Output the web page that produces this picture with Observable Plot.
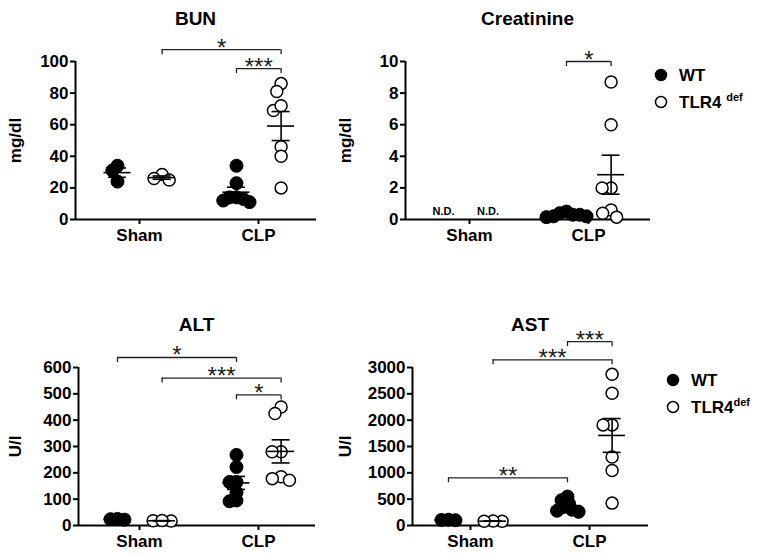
<!DOCTYPE html>
<html><head><meta charset="utf-8">
<script src="https://cdn.jsdelivr.net/npm/d3@7"></script>
<script src="https://cdn.jsdelivr.net/npm/@observablehq/plot@0.6"></script>
<style>
body{margin:0;background:#fff;font-family:"Liberation Sans",Arial,sans-serif;}
#root{position:relative;width:764px;height:556px;overflow:hidden;background:#fff;}
.panel{position:absolute;}
.title{position:absolute;font-weight:bold;font-size:19px;line-height:19px;white-space:nowrap;transform:translateX(-50%);}
.lg{position:absolute;font-weight:bold;font-size:17px;line-height:17px;white-space:nowrap;}
.lg sup{font-size:11px;vertical-align:0;position:relative;top:-7px;}
.sym{position:absolute;}
g[aria-label="stars"] text{letter-spacing:1.5px;}
</style></head><body><div id="root"></div>
<script>
// ---- categories ----
const groups = ["Sham", "CLP"];
const genotypes = ["WT", "TLR4"];

// ---- BUN (mg/dl) ----
const bunShamWT   = [34, 31, 24];
const bunShamTLR4 = [28.5, 25, 26];
const bunClpWT    = [34, 23, 14, 13, 12, 11, 14];
const bunClpTLR4  = [86, 81, 69, 72, 46, 40, 20];
const bunTicks    = [0, 20, 40, 60, 80, 100];
const bunBrackets = [
  {from: "Sham TLR4", to: "CLP TLR4", level: 107.5, label: "*"},
  {from: "CLP WT", to: "CLP TLR4", level: 95.5, label: "***"}
];

// ---- Creatinine (mg/dl) ----
const creShamWT   = [];   // N.D.
const creShamTLR4 = [];   // N.D.
const creClpWT    = [0.5, 0.4, 0.3, 0.2, 0.2, 0.15, 0.3];
const creClpTLR4  = [8.7, 6.0, 2.0, 2.0, 0.6, 0.4, 0.15];
const creTicks    = [0, 2, 4, 6, 8, 10];
const creBrackets = [
  {from: "CLP WT", to: "CLP TLR4", level: 10, label: "*"}
];
const creNotDetected = [{col: "Sham WT", label: "N.D."}, {col: "Sham TLR4", label: "N.D."}];

// ---- ALT (U/l) ----
const altShamWT   = [25, 22, 24];
const altShamTLR4 = [18, 17, 19];
const altClpWT    = [268, 222, 165, 165, 125, 92, 95];
const altClpTLR4  = [450, 425, 280, 280, 185, 172, 178];
const altTicks    = [0, 100, 200, 300, 400, 500, 600];
const altBrackets = [
  {from: "Sham WT", to: "CLP WT", level: 638, label: "*"},
  {from: "Sham TLR4", to: "CLP TLR4", level: 560, label: "***"},
  {from: "CLP WT", to: "CLP TLR4", level: 496, label: "*"}
];

// ---- AST (U/l) ----
const astShamWT   = [105, 100, 110];
const astShamTLR4 = [80, 85, 82];
const astClpWT    = [550, 480, 420, 350, 300, 280, 260];
const astClpTLR4  = [2870, 2510, 1910, 1910, 1300, 1045, 425];
const astTicks    = [0, 500, 1000, 1500, 2000, 2500, 3000];
const astBrackets = [
  {from: "CLP WT", to: "CLP TLR4", level: 3490, label: "***"},
  {from: "Sham TLR4", to: "CLP TLR4", level: 3146, label: "***"},
  {from: "Sham WT", to: "CLP WT", level: 905, label: "**"}
];

// ---- layout ----
const UNIT_PX = 119;            // px between Sham and CLP
const GENO_OFF = {WT: -0.185, TLR4: 0.19};
function colX(key) {
  const [g, t] = key.split(" ");
  return groups.indexOf(g) + GENO_OFF[t];
}

const panels = [
  {title: "BUN", unit: "mg/dl", yMax: 100, ticks: bunTicks,
   sets: [bunShamWT, bunShamTLR4, bunClpWT, bunClpTLR4], brackets: bunBrackets, nd: [],
   left: 0, top: 0, width: 330, height: 262, mL: 75, mR: 14, mT: 61, mB: 43, shamPx: 139},
  {title: "Creatinine", unit: "mg/dl", yMax: 10, ticks: creTicks,
   sets: [creShamWT, creShamTLR4, creClpWT, creClpTLR4], brackets: creBrackets, nd: creNotDetected,
   left: 330, top: 0, width: 434, height: 262, mL: 75, mR: 114, mT: 61, mB: 43, shamPx: 469},
  {title: "ALT", unit: "U/l", yMax: 600, ticks: altTicks,
   sets: [altShamWT, altShamTLR4, altClpWT, altClpTLR4], brackets: altBrackets, nd: [],
   left: 0, top: 262, width: 330, height: 294, mL: 78, mR: 15, mT: 105, mB: 31, shamPx: 139},
  {title: "AST", unit: "U/l", yMax: 3000, ticks: astTicks,
   sets: [astShamWT, astShamTLR4, astClpWT, astClpTLR4], brackets: astBrackets, nd: [],
   left: 330, top: 262, width: 434, height: 294, mL: 82, mR: 116, mT: 105, mB: 31, shamPx: 470}
];

// simple beeswarm spread (pixel space) so overlapping points sit side by side
function swarm(values, pxPerUnit, minDist) {
  const order = d3.range(values.length).sort((a, b) => values[b] - values[a]);
  const placed = [], off = new Array(values.length).fill(0);
  for (const i of order) {
    const y = values[i] * pxPerUnit;
    const forb = [];
    for (const p of placed) {
      const dy = Math.abs(p.y - y);
      if (dy < minDist) { const w = Math.sqrt(minDist * minDist - dy * dy); forb.push([p.x - w, p.x + w]); }
    }
    const cands = [0, ...forb.flat()].sort((a, b) => Math.abs(a) - Math.abs(b));
    let x = 0;
    for (const c of cands) {
      if (!forb.some(([a, b]) => c > a + 1e-6 && c < b - 1e-6)) { x = c; break; }
    }
    placed.push({x, y}); off[i] = x;
  }
  return off;
}

const root = document.getElementById("root");
const cols = [["Sham", "WT"], ["Sham", "TLR4"], ["CLP", "WT"], ["CLP", "TLR4"]];

for (const p of panels) {
  const frameW = p.width - p.mL - p.mR;
  const frameH = p.height - p.mT - p.mB;
  const xl = p.left + p.mL;
  const xMin = -(p.shamPx - xl) / UNIT_PX;
  const xMax = xMin + frameW / UNIT_PX;
  const pxPerUnitY = frameH / p.yMax;

  const rows = [], stats = [];
  cols.forEach(([g, t], ci) => {
    const vals = p.sets[ci];
    if (!vals.length) return;
    const cx = colX(g + " " + t);
    const off = swarm(vals, pxPerUnitY, t === "WT" ? 7 : 9);
    vals.forEach((v, i) => rows.push({group: g, genotype: t, value: v, x: cx + off[i] / UNIT_PX}));
    const mean = d3.mean(vals);
    const sem = d3.deviation(vals) / Math.sqrt(vals.length);
    stats.push({x: cx, mean, lo: mean - sem, hi: mean + sem});
  });

  const tickLen = 5 / pxPerUnitY;
  const bEnds = p.brackets.flatMap(b => [{x: colX(b.from), level: b.level}, {x: colX(b.to), level: b.level}]);
  const mw = 13.5 / UNIT_PX, cw = 9 / UNIT_PX;

  const chart = Plot.plot({
    width: p.width, height: p.height,
    marginLeft: p.mL, marginRight: p.mR, marginTop: p.mT, marginBottom: p.mB,
    x: {domain: [xMin, xMax], axis: null},
    y: {domain: [0, p.yMax], axis: null},
    style: {fontFamily: "'Liberation Sans', Arial, sans-serif", fontSize: "17px", fontWeight: "bold",
            color: "#000", background: "transparent", overflow: "visible"},
    marks: [
      Plot.axisY({ticks: p.ticks, tickSize: 5, tickPadding: 2, strokeWidth: 2, tickFormat: d3.format("d"),
                  label: p.unit, labelAnchor: "center", labelOffset: p.mL - 8, labelArrow: "none"}),
      Plot.axisX({ticks: [0, 1], tickFormat: i => groups[i], tickSize: 5, tickPadding: 4, strokeWidth: 2, label: null}),
      Plot.ruleY([0], {strokeWidth: 2}),
      Plot.ruleX([xMin], {strokeWidth: 2}),
      Plot.ruleY(p.brackets, {x1: d => colX(d.from), x2: d => colX(d.to), y: "level", strokeWidth: 1.3, stroke: "#222"}),
      Plot.ruleX(bEnds, {x: "x", y1: "level", y2: d => d.level - tickLen, strokeWidth: 1.3, stroke: "#222"}),
      Plot.text(p.brackets, {x: d => (colX(d.from) + colX(d.to)) / 2, y: "level", text: "label",
                lineAnchor: "bottom", dy: 6, fontWeight: "normal", fontSize: 24, fill: "#222", ariaLabel: "stars"}),
      Plot.text(p.nd, {x: d => colX(d.col), y: () => 0, text: "label", lineAnchor: "bottom", dy: -5, dx: -4,
                fontSize: 11, fontWeight: "bold"}),
      Plot.dot(rows.filter(d => d.genotype === "WT"), {x: "x", y: "value", r: 6.5, fill: "#000", stroke: "#000", strokeWidth: 1}),
      Plot.dot(rows.filter(d => d.genotype === "TLR4"), {x: "x", y: "value", r: 6, fill: "#fff", stroke: "#000", strokeWidth: 1.5}),
      Plot.ruleY(stats, {x1: d => d.x - mw, x2: d => d.x + mw, y: "mean", strokeWidth: 1.6}),
      Plot.ruleY(stats, {x1: d => d.x - cw, x2: d => d.x + cw, y: "hi", strokeWidth: 1.6}),
      Plot.ruleY(stats, {x1: d => d.x - cw, x2: d => d.x + cw, y: "lo", strokeWidth: 1.6}),
      Plot.ruleX(stats, {x: "x", y1: "lo", y2: "hi", strokeWidth: 1.6})
    ]
  });
  const holder = document.createElement("div");
  holder.className = "panel";
  holder.style.left = p.left + "px";
  holder.style.top = p.top + "px";
  holder.appendChild(chart);
  root.appendChild(holder);

  const t = document.createElement("div");
  t.className = "title";
  t.textContent = p.title;
  t.style.left = (xl + frameW / 2) + "px";
  t.style.top = (p.top + p.mT - 52) + "px";
  root.appendChild(t);
}

// ---- legends ----
function legend(x, y, gap, spaced) {
  const items = [{fill: "#000", r: 5.5, name: "WT", sup: ""}, {fill: "#fff", r: 5.5, name: "TLR4", sup: "def"}];
  items.forEach((it, i) => {
    const cy = y + i * gap;
    const s = document.createElementNS("http://www.w3.org/2000/svg", "svg");
    s.setAttribute("width", 16); s.setAttribute("height", 16);
    s.setAttribute("class", "sym");
    s.style.left = (x - 8) + "px"; s.style.top = (cy - 8) + "px";
    const c = document.createElementNS("http://www.w3.org/2000/svg", "circle");
    c.setAttribute("cx", 8); c.setAttribute("cy", 8); c.setAttribute("r", it.r);
    c.setAttribute("fill", it.fill); c.setAttribute("stroke", "#000"); c.setAttribute("stroke-width", 1.5);
    s.appendChild(c); root.appendChild(s);
    const d = document.createElement("div");
    d.className = "lg";
    d.style.left = (x + 18) + "px"; d.style.top = (cy - 8) + "px";
    d.innerHTML = it.name + (it.sup ? (spaced ? "&nbsp;" : "") + "<sup>" + it.sup + "</sup>" : "");
    root.appendChild(d);
  });
}
legend(661, 75, 27, true);
legend(673, 380, 27, false);
</script></body></html>
